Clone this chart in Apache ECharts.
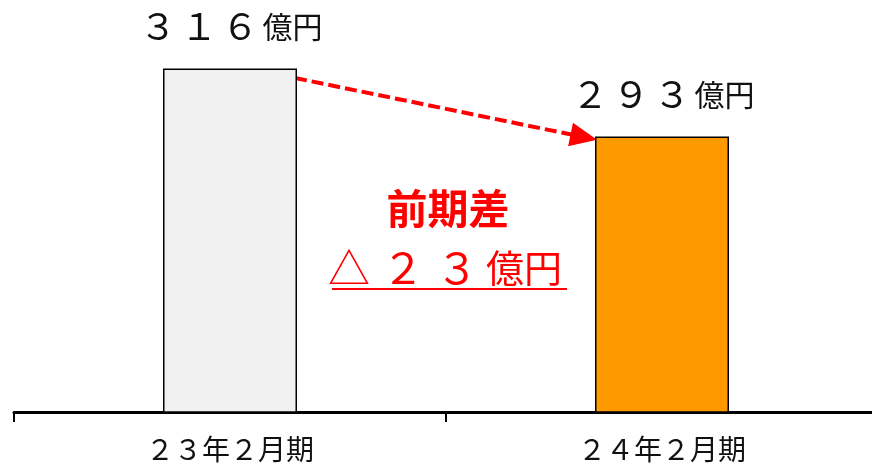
<!DOCTYPE html>
<html>
<head>
<meta charset="utf-8">
<script src="https://cdn.jsdelivr.net/npm/echarts@6/dist/echarts.min.js"></script>
<style>html,body{margin:0;padding:0;background:#fff;}#c{width:872px;height:466px;}</style>
</head>
<body>
<div id="c"></div>
<script>
// ---- data ----
var categories = ['２３年２月期', '２４年２月期'];
var values = [316, 293];
var barColors = ['#f0f0f0', '#ff9900'];
var unitLabel = '億円';
var diffTitle = '前期差';
var diffValue = 23;
var arrowFrom = 312.8;   // value level where arrow leaves bar 1
var arrowTo = 291.9;     // value level where arrow tip hits bar 2

function toFull(n) {
  return String(n).replace(/[0-9]/g, function (d) { return String.fromCharCode(d.charCodeAt(0) + 0xFEE0); });
}
function digitsRich(s) {
  return s.split('').map(function (c) { return '{d|' + c + '}'; }).join('');
}

var FONT = '"Noto Sans CJK JP", "Noto Sans", sans-serif';
var chart = echarts.init(document.getElementById('c'), null, { renderer: 'canvas' });

var option = {
  animation: false,
  backgroundColor: '#ffffff',
  grid: { left: 14, right: -6, top: 27, bottom: 54, containLabel: false, outerBoundsMode: 'none' },
  xAxis: {
    type: 'category',
    data: categories,
    axisLine: { lineStyle: { color: '#000', width: 3 } },
    axisTick: { show: true, length: 10, lineStyle: { color: '#000', width: 2 } },
    axisLabel: { color: '#111', fontSize: 28, fontFamily: FONT, margin: 23 }
  },
  yAxis: { type: 'value', min: 200, max: 330, show: false, splitLine: { show: false } },
  series: [{
    type: 'bar',
    barWidth: 134,
    data: values.map(function (v, i) {
      return { value: v, itemStyle: { color: barColors[i], borderColor: '#000', borderWidth: 1.5 } };
    }),
    label: {
      show: true,
      position: 'top',
      distance: 24,
      formatter: function (p) { return digitsRich(toFull(p.value)) + '{u|' + unitLabel + '}'; },
      rich: {
        d: { fontSize: 37, fontFamily: FONT, color: '#111', width: 41, align: 'center' },
        u: { fontSize: 30, fontFamily: FONT, color: '#111', padding: [2, 0, 0, 2] }
      }
    }
  }]
};
chart.setOption(option);

// ---- annotations derived from bar layout ----
var data = chart.getModel().getSeriesByIndex(0).getData();
var l0 = data.getItemLayout(0), l1 = data.getItemLayout(1);
var x0 = l0.x + l0.width - 2;
var y0 = chart.convertToPixel({ yAxisIndex: 0 }, arrowFrom);
var x1 = l1.x + 2;
var y1 = chart.convertToPixel({ yAxisIndex: 0 }, arrowTo);
var dx = x1 - x0, dy = y1 - y0, len = Math.sqrt(dx * dx + dy * dy);
var ux = dx / len, uy = dy / len;
var headLen = 27, headHalf = 12;
var bx = x1 - ux * headLen, by = y1 - uy * headLen;
var midX = (l0.x + l0.width + l1.x) / 2;

chart.setOption({
  graphic: [
    { type: 'line', shape: { x1: x0, y1: y0, x2: bx + ux * 2, y2: by + uy * 2 },
      style: { stroke: '#ff0000', lineWidth: 4, lineDash: [12, 5] } },
    { type: 'polygon', shape: { points: [[x1, y1], [bx - uy * headHalf, by + ux * headHalf], [bx + uy * headHalf, by - ux * headHalf]] },
      style: { fill: '#ff0000' } },
    { type: 'text', x: midX + 2, y: 208,
      style: { text: diffTitle, fill: '#ff0000', font: 'bold 41px ' + FONT, align: 'center', verticalAlign: 'middle' } },
    { type: 'text', x: midX - 4, y: 268,
      style: {
        text: '{d|△}' + digitsRich(toFull(diffValue)) + '{u|' + unitLabel + '}',
        align: 'center', verticalAlign: 'middle',
        rich: {
          d: { fontSize: 42, fontFamily: FONT, fill: '#ff0000', width: 54, align: 'center' },
          u: { fontSize: 38, fontFamily: FONT, fill: '#ff0000', padding: [0, 0, 0, 2] }
        }
      } },
    { type: 'line', shape: { x1: midX - 114, y1: 289, x2: midX + 121, y2: 289 },
      style: { stroke: '#ff0000', lineWidth: 2 } }
  ]
});
</script>
</body>
</html>
